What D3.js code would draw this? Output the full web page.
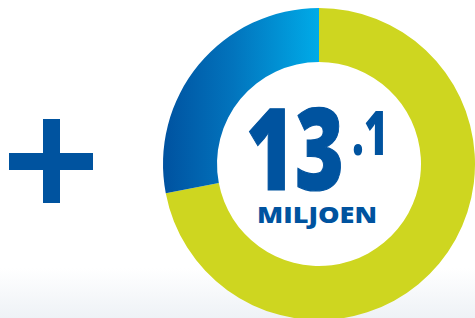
<!DOCTYPE html>
<html>
<head>
<meta charset="utf-8">
<script src="https://cdn.jsdelivr.net/npm/d3@7"></script>
<style>
  html, body { margin:0; padding:0; background:#fff; }
  svg { display:block; }
</style>
</head>
<body>
<div id="vis"></div>
<script>
/* Data */
const categories = ["overig", "aandeel"];
const shares     = [72, 28];                 // percent of the ring
const colours    = ["#ced620", "url(#blue-grad)"];
const totalLabel = "13.1";
const unitLabel  = "MILJOEN";

/* Layout */
const W = 475, H = 318;
const cx = 319, cy = 164;
const rOuter = 156, rInner = 102;
const ink = "#00539f";

const svg = d3.select("#vis").append("svg")
    .attr("width", W).attr("height", H);

const defs = svg.append("defs");

/* soft grey floor at the bottom */
const bg = defs.append("linearGradient")
    .attr("id","bg-grad").attr("x1","0").attr("y1","0").attr("x2","0").attr("y2","1");
bg.append("stop").attr("offset","0%").attr("stop-color","#ffffff");
bg.append("stop").attr("offset","100%").attr("stop-color","#eef2f6");

svg.append("rect").attr("width",W).attr("height",H).attr("fill","#fff");
svg.append("rect").attr("x",0).attr("y",268).attr("width",W).attr("height",H-268)
    .attr("fill","url(#bg-grad)");

/* blue segment gradient, dark left -> cyan right (coords relative to donut centre) */
const bGrad = defs.append("linearGradient")
    .attr("id","blue-grad").attr("gradientUnits","userSpaceOnUse")
    .attr("x1",-rOuter).attr("y1",0).attr("x2",0).attr("y2",0);
bGrad.append("stop").attr("offset","0%").attr("stop-color","#0052a0");
bGrad.append("stop").attr("offset","45%").attr("stop-color","#0274bd");
bGrad.append("stop").attr("offset","100%").attr("stop-color","#00abe8");

/* Plus sign */
const plus = svg.append("g").attr("fill", ink);
plus.append("rect").attr("x",43).attr("y",119).attr("width",17).attr("height",84);
plus.append("rect").attr("x",9).attr("y",153).attr("width",84).attr("height",17);

/* Donut */
const pie = d3.pie().sort(null).value(d => d.v);
const arc = d3.arc().innerRadius(rInner).outerRadius(rOuter);
const rows = categories.map((c,i) => ({ c, v: shares[i], col: colours[i] }));

svg.append("g").attr("transform",`translate(${cx},${cy})`)
  .selectAll("path").data(pie(rows)).join("path")
    .attr("d", arc)
    .attr("fill", d => d.data.col);

/* Centre label: one text, three runs */
const [whole, frac] = totalLabel.split(".");
const label = svg.append("text")
    .attr("font-family","'Open Sans', sans-serif").attr("font-weight",800)
    .attr("fill",ink);

label.append("tspan")
    .attr("x",246).attr("y",190)
    .attr("font-size",114)
    .attr("stroke",ink).attr("stroke-width",1.2)
    .attr("textLength",98).attr("lengthAdjust","spacingAndGlyphs")
    .text(whole);

label.append("tspan")
    .attr("x",352).attr("y",155)
    .attr("font-size",62)
    .attr("textLength",36).attr("lengthAdjust","spacingAndGlyphs")
    .text("." + frac);

label.append("tspan")
    .attr("x",257).attr("y",223)
    .attr("font-size",22)
    .attr("textLength",120).attr("lengthAdjust","spacingAndGlyphs")
    .text(unitLabel);
</script>
</body>
</html>
